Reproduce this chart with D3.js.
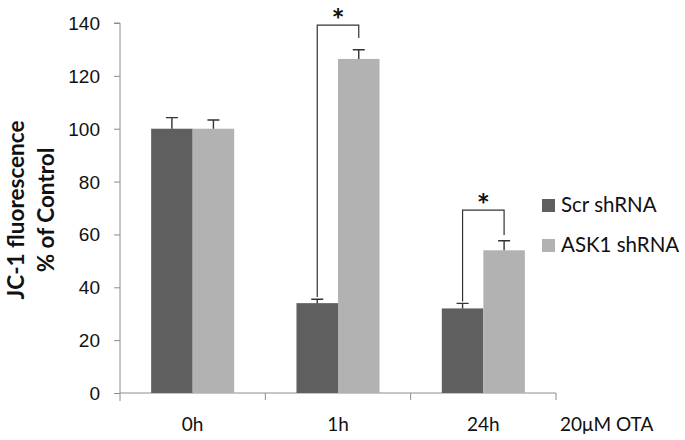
<!DOCTYPE html>
<meta charset="utf-8">
<style>
body { margin: 0; background: #fff; }
svg { font-family: Lato, "Open Sans", sans-serif; }
.axis path, .axis line { stroke: #8c8c8c; }
.axis text { fill: #111; font-size: 19px; }
</style>
<svg width="685" height="440"></svg>
<script src="https://d3js.org/d3.v7.min.js"></script>
<script>

var categories = ["0h", "1h", "24h"],
    series = ["Scr shRNA", "ASK1 shRNA"],
    colors = ["#5f5f5f", "#b2b2b2"];

var scrValues = [100, 34, 32],
    askValues = [100, 126.4, 54],
    scrErr = [4.2, 1.5, 1.9],
    askErr = [3.3, 3.5, 3.6];

var yTicks = [0, 20, 40, 60, 80, 100, 120, 140];

// significance brackets: top of bracket and where each leg stops
var brackets = [
  {cat: "1h", top: 139.2, left: 36.3, right: 134.3},
  {cat: "24h", top: 69.2, left: 34.6, right: 59.8}
];

var svg = d3.select("svg"),
    margin = {top: 23, right: 129, bottom: 47, left: 120},
    width = +svg.attr("width") - margin.left - margin.right,
    height = +svg.attr("height") - margin.top - margin.bottom;

var x0 = d3.scaleBand().domain(categories).range([0, width]).padding(0),
    x1 = d3.scaleBand().domain(series).range([0, x0.bandwidth()]).paddingInner(0).paddingOuter(0.75),
    y = d3.scaleLinear().domain([0, 140]).range([height, 0]);

var g = svg.append("g")
    .attr("transform", "translate(" + margin.left + "," + margin.top + ")");

// y axis
var yAxis = g.append("g")
    .attr("class", "axis")
    .call(d3.axisLeft(y).tickValues(yTicks).tickSize(6).tickPadding(14));
yAxis.select(".domain").attr("d", "M-6," + y(140) + "H0V" + (height + 8));
yAxis.selectAll("text").attr("dy", "0.34em");

// x axis, ticks sit between the groups
var xAxis = g.append("g")
    .attr("class", "axis")
    .attr("transform", "translate(0," + height + ")");
xAxis.append("path")
    .attr("d", "M0,0H" + width)
    .attr("fill", "none");
xAxis.selectAll(".sep")
    .data(categories)
  .enter().append("line")
    .attr("x1", function(d) { return x0(d) + x0.bandwidth(); })
    .attr("x2", function(d) { return x0(d) + x0.bandwidth(); })
    .attr("y1", 0)
    .attr("y2", 7);
xAxis.selectAll(".lbl")
    .data(categories)
  .enter().append("text")
    .attr("x", function(d) { return x0(d) + x0.bandwidth() / 2; })
    .attr("y", 38)
    .attr("text-anchor", "middle")
    .text(function(d) { return d; });
xAxis.append("text")
    .attr("x", width + 4)
    .attr("y", 38)
    .text("20\u03bcM OTA");

// bars
var rows = categories.map(function(c, i) {
  return [
    {cat: c, s: series[0], v: scrValues[i], e: scrErr[i], col: colors[0]},
    {cat: c, s: series[1], v: askValues[i], e: askErr[i], col: colors[1]}
  ];
});

var grp = g.selectAll(".grp")
    .data(rows)
  .enter().append("g")
    .attr("transform", function(d) { return "translate(" + x0(d[0].cat) + ",0)"; });

grp.selectAll("rect")
    .data(function(d) { return d; })
  .enter().append("rect")
    .attr("x", function(d) { return x1(d.s); })
    .attr("y", function(d) { return y(d.v); })
    .attr("width", x1.bandwidth())
    .attr("height", function(d) { return height - y(d.v); })
    .attr("fill", function(d) { return d.col; });

var err = grp.selectAll(".err")
    .data(function(d) { return d; })
  .enter().append("path")
    .attr("fill", "none")
    .attr("stroke", "#333")
    .attr("stroke-width", 1.4)
    .attr("d", function(d) {
      var cx = x1(d.s) + x1.bandwidth() / 2;
      return "M" + cx + "," + y(d.v) + "V" + y(d.v + d.e) + "M" + (cx - 6) + "," + y(d.v + d.e) + "H" + (cx + 6);
    });

// significance brackets
brackets.forEach(function(b) {
  var xl = x0(b.cat) + x1(series[0]) + x1.bandwidth() / 2,
      xr = x0(b.cat) + x1(series[1]) + x1.bandwidth() / 2;
  g.append("path")
      .attr("fill", "none")
      .attr("stroke", "#333")
      .attr("stroke-width", 1.2)
      .attr("d", "M" + xl + "," + y(b.left) + "V" + y(b.top) + "H" + xr + "V" + y(b.right));
  // Lato's asterisk sits high, so the baseline goes just under the bracket
  g.append("text")
      .attr("x", (xl + xr) / 2)
      .attr("y", y(b.top) + 6)
      .attr("text-anchor", "middle")
      .attr("font-size", 31)
      .attr("font-weight", "bold")
      .attr("fill", "#111")
      .text("*");
});

// legend
var legend = svg.append("g")
    .attr("transform", "translate(542,199)");
var li = legend.selectAll("g")
    .data(series)
  .enter().append("g")
    .attr("transform", function(d, i) { return "translate(0," + i * 40 + ")"; });
li.append("rect")
    .attr("width", 13)
    .attr("height", 13)
    .attr("fill", function(d, i) { return colors[i]; });
li.append("text")
    .attr("x", 19)
    .attr("y", 6.5)
    .attr("dy", "0.34em")
    .attr("font-size", 20.5)
    .attr("fill", "#111")
    .text(function(d) { return d; });

// y title
var title = svg.append("text")
    .attr("transform", "translate(24,210) rotate(-90)")
    .attr("text-anchor", "middle")
    .attr("font-weight", "bold")
    .attr("font-size", 22.5)
    .attr("fill", "#111");
title.append("tspan").attr("x", 0).attr("y", 0).text("JC-1 fluorescence");
title.append("tspan").attr("x", 0).attr("y", 30).text("% of Control");

</script>
